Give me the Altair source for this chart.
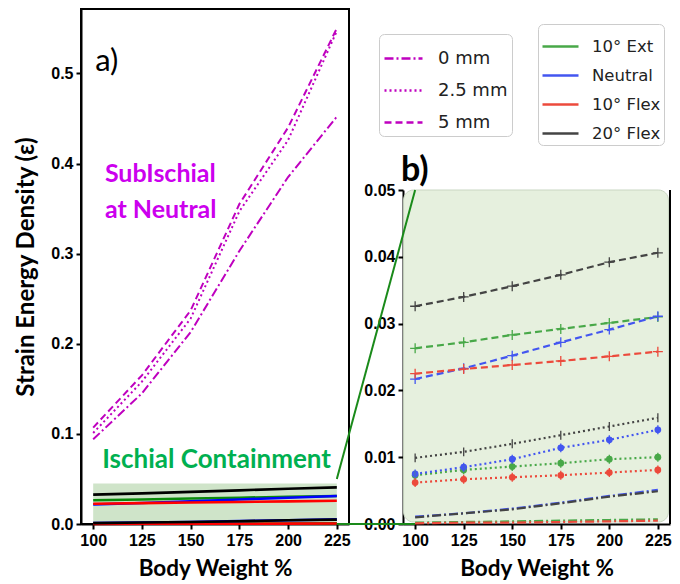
import altair as alt
import pandas as pd

# ---------------- data ----------------
bw = [100, 125, 150, 175, 200, 225]
postures = ["10° Ext", "Neutral", "10° Flex", "20° Flex"]
thickness = ["0 mm", "2.5 mm", "5 mm"]

# SubIschial socket at neutral (panel a, magenta)
sub_0mm = [0.094, 0.145, 0.213, 0.303, 0.385, 0.452]
sub_2p5mm = [0.101, 0.158, 0.228, 0.347, 0.426, 0.547]
sub_5mm = [0.107, 0.165, 0.237, 0.355, 0.440, 0.550]

# Ischial containment socket
ext_0mm = [0.0002, 0.0003, 0.0004, 0.0005, 0.0006, 0.0007]
neu_0mm = [0.0011, 0.0016, 0.0023, 0.0032, 0.0042, 0.0051]
flx10_0mm = [0.0001, 0.0002, 0.0002, 0.0003, 0.0004, 0.0005]
flx20_0mm = [0.0010, 0.0016, 0.0022, 0.0031, 0.0041, 0.0049]

ext_2p5mm = [0.0073, 0.0081, 0.0086, 0.0091, 0.0097, 0.0100]
neu_2p5mm = [0.0075, 0.0085, 0.0097, 0.0114, 0.0126, 0.0141]
flx10_2p5mm = [0.0062, 0.0067, 0.0070, 0.0073, 0.0077, 0.0081]
flx20_2p5mm = [0.0099, 0.0108, 0.0120, 0.0133, 0.0146, 0.0159]

ext_5mm = [0.0263, 0.0272, 0.0283, 0.0292, 0.0301, 0.0310]
neu_5mm = [0.0217, 0.0233, 0.0252, 0.0272, 0.0291, 0.0311]
flx10_5mm = [0.0225, 0.0232, 0.0238, 0.0244, 0.0251, 0.0258]
flx20_5mm = [0.0326, 0.0340, 0.0356, 0.0373, 0.0392, 0.0406]

# ---------------- styles ----------------
a_colors = ["#0b8a0b", "#0000ff", "#ff0000", "#000000"]
b_colors = ["#48a848", "#4356f0", "#ec4a3c", "#444444"]
magenta = "#bf00bf"
dash_range = [[9, 3, 2, 3], [2, 3], [7, 4]]

X0, X1 = 93.75, 231.25
WA, WB, H = 268, 267, 515
SP = 54
YA_MAX = 0.5715
B_TOP = 181

# ---------------- tables ----------------
sub_rows = []
for mm, vals in zip(thickness, [sub_0mm, sub_2p5mm, sub_5mm]):
    for x, v in zip(bw, vals):
        sub_rows.append({"bw": x, "sed": v, "mm": mm})
sub_df = pd.DataFrame(sub_rows)

ic_series = {
    ("10° Ext", "0 mm"): ext_0mm, ("Neutral", "0 mm"): neu_0mm,
    ("10° Flex", "0 mm"): flx10_0mm, ("20° Flex", "0 mm"): flx20_0mm,
    ("10° Ext", "2.5 mm"): ext_2p5mm, ("Neutral", "2.5 mm"): neu_2p5mm,
    ("10° Flex", "2.5 mm"): flx10_2p5mm, ("20° Flex", "2.5 mm"): flx20_2p5mm,
    ("10° Ext", "5 mm"): ext_5mm, ("Neutral", "5 mm"): neu_5mm,
    ("10° Flex", "5 mm"): flx10_5mm, ("20° Flex", "5 mm"): flx20_5mm,
}
ic_rows = []
for (p, mm), vals in ic_series.items():
    for x, v in zip(bw, vals):
        ic_rows.append({"bw": x, "sed": v, "posture": p, "mm": mm,
                        "series": p + " " + mm,
                        "ca": a_colors[postures.index(p)],
                        "cb": b_colors[postures.index(p)]})
ic_df = pd.DataFrame(ic_rows)

# ---------------- panel a ----------------
xa = alt.X("bw:Q", scale=alt.Scale(domain=[X0, X1], nice=False, zero=False),
           axis=alt.Axis(values=bw, title="Body Weight %"))
ya = alt.Y("sed:Q", scale=alt.Scale(domain=[0, YA_MAX], nice=False),
           axis=alt.Axis(values=[0, 0.1, 0.2, 0.3, 0.4, 0.5], format=".1f",
                         title="Strain Energy Density (ε)"))

zoom_box = pd.DataFrame({"bw": [100], "bw2": [225], "sed": [0.0], "sed2": [0.045]})
box_a = alt.Chart(zoom_box).mark_rect(color="#cfe4c9").encode(
    x=alt.X("bw:Q", scale=alt.Scale(domain=[X0, X1], nice=False, zero=False)),
    x2="bw2", y="sed:Q", y2="sed2")

ic_a = alt.Chart(ic_df[ic_df.mm != "2.5 mm"]).mark_line(strokeWidth=2.6).encode(
    x=xa, y=ya, color=alt.Color("ca:N", scale=None), detail="series:N")

sub_a = alt.Chart(sub_df).mark_line(strokeWidth=2, color=magenta).encode(
    x=xa, y=ya,
    strokeDash=alt.StrokeDash("mm:N", scale=alt.Scale(domain=thickness, range=dash_range),
                              legend=None))

txt_a = alt.Chart(pd.DataFrame({"bw": [0]})).mark_text(
    text="a)", font="Lato", fontSize=31, align="left", baseline="alphabetic", color="black"
).encode(x=alt.datum(101.0), y=alt.datum(0.503))
txt_sub = alt.Chart(pd.DataFrame({"bw": [0]})).mark_text(
    text=["SubIschial", "at Neutral"], font="Lato", fontWeight="bold", fontSize=25,
    lineHeight=36, align="left", baseline="alphabetic", color="#cc00ee"
).encode(x=alt.datum(106.0), y=alt.datum(0.380))
txt_ic = alt.Chart(pd.DataFrame({"bw": [0]})).mark_text(
    text="Ischial Containment", font="Lato", fontWeight="bold", fontSize=26,
    align="left", baseline="alphabetic", color="#00b050"
).encode(x=alt.datum(104.6), y=alt.datum(0.0625))

panel_a = alt.layer(box_a, ic_a, sub_a, txt_a, txt_sub, txt_ic).properties(
    width=WA, height=H, view=alt.ViewBackground(stroke="black", strokeWidth=2))

# ---------------- panel b ----------------
xb = alt.X("bw:Q", scale=alt.Scale(domain=[X0, X1], nice=False, zero=False),
           axis=alt.Axis(values=bw, title="Body Weight %"))
yb = alt.Y("sed:Q", scale=alt.Scale(domain=[0, 0.05], nice=False, range=[H, B_TOP]),
           axis=alt.Axis(values=[0, 0.01, 0.02, 0.03, 0.04, 0.05], format=".2f", title=None))

bg_df = pd.DataFrame({"bw": [X0 + 0.3], "bw2": [X1 - 0.8], "sed": [0.0003], "sed2": [0.05]})
bg_b = alt.Chart(bg_df).mark_rect(color="#e6f0de", cornerRadius=10, stroke="#c9d6c2",
                                  strokeWidth=1).encode(
    x=xb, x2="bw2", y=yb, y2="sed2")
frame_df = pd.DataFrame({"bw": [X1], "sed": [0.0], "sed2": [0.05]})
frame_b = alt.Chart(frame_df).mark_rule(color="black", strokeWidth=2).encode(
    x=xb, y=yb, y2="sed2")

# connector lines from the zoom box in panel a to panel b (in panel b data units)
a225_px = (225 - X0) / (X1 - X0) * WA - WA - SP
conn_x = X0 + a225_px / WB * (X1 - X0)
a005_px = H - 0.05 / YA_MAX * H
conn_y = (H - a005_px) / (H - B_TOP) * 0.05
conn_df = pd.DataFrame({"bw": [100, 100], "sed": [0.05, 0.0],
                        "bw2": [conn_x, conn_x], "sed2": [conn_y, 0.0]})
conn = alt.Chart(conn_df).mark_rule(color="#1a8a1a", strokeWidth=2, clip=False).encode(
    x="bw:Q", y="sed:Q", x2="bw2", y2="sed2")

lines_b = alt.Chart(ic_df).mark_line(strokeWidth=2.2).encode(
    x=xb, y=yb,
    color=alt.Color("posture:N", scale=alt.Scale(domain=postures, range=b_colors),
                    legend=alt.Legend(title=None, orient="none", legendX=135, legendY=15,
                                      symbolType="stroke", symbolSize=1296,
                                      symbolStrokeWidth=2.5, labelFont="DejaVu Sans",
                                      labelFontSize=16.5, labelColor="#222222",
                                      labelOffset=12, rowPadding=1, padding=3,
                                      strokeColor="#cccccc", fillColor="white",
                                      cornerRadius=5)),
    strokeDash=alt.StrokeDash("mm:N", scale=alt.Scale(domain=thickness, range=dash_range),
                              legend=alt.Legend(title=None, orient="none", legendX=-24,
                                                legendY=25, symbolType="stroke",
                                                symbolSize=1444, symbolStrokeWidth=2.5,
                                                symbolStrokeColor=magenta,
                                                labelFont="DejaVu Sans", labelFontSize=18,
                                                labelColor="#222222", labelOffset=14,
                                                rowPadding=2, padding=4,
                                                strokeColor="#cccccc", fillColor="white",
                                                cornerRadius=5)),
    detail="series:N")

plus_b = alt.Chart(ic_df[ic_df.mm == "5 mm"]).mark_point(
    shape="M-1,0L1,0M0,-1L0,1", size=100, filled=False, strokeWidth=1.3, opacity=1
).encode(x=xb, y=yb, color=alt.Color("cb:N", scale=None))
dots_b = alt.Chart(ic_df[(ic_df.mm == "2.5 mm") & (ic_df.posture != "20° Flex")]).mark_point(
    shape="circle", size=45, filled=True, opacity=1
).encode(x=xb, y=yb, color=alt.Color("cb:N", scale=None))
bars_b = alt.Chart(ic_df[ic_df.mm == "2.5 mm"]).mark_point(
    shape="M0,-1L0,1", size=80, filled=False, strokeWidth=1.3, opacity=1
).encode(x=xb, y=yb, color=alt.Color("cb:N", scale=None))

txt_b = alt.Chart(pd.DataFrame({"bw": [0]})).mark_text(
    text="b)", font="Lato", fontWeight="bold", fontSize=34, align="left",
    baseline="alphabetic", color="black", clip=False
).encode(x=alt.datum(92.7), y=alt.datum(0.0513))

panel_b = alt.layer(bg_b, frame_b, conn, lines_b, plus_b, dots_b, bars_b, txt_b).properties(
    width=WB, height=H, view=alt.ViewBackground(strokeOpacity=0))

chart = alt.hconcat(panel_a, panel_b, spacing=SP, bounds="flush").resolve_scale(
    color="independent", strokeDash="independent"
).properties(
    padding={"left": 5, "top": 0, "right": 0, "bottom": 0}
).configure_axis(
    grid=False, domainColor="black", domainWidth=2, tickColor="black", tickWidth=2,
    tickSize=5, labelFont="Liberation Sans", labelFontWeight="bold", labelFontSize=16,
    labelColor="black", labelPadding=3, titleFont="Lato", titleFontWeight="bold",
    titleFontSize=22.5, titleColor="black"
).configure_axisX(titlePadding=9).configure_axisY(titlePadding=12, titleFontSize=24)

chart.save("out.html", embed_options={"renderer": "svg", "actions": False})
